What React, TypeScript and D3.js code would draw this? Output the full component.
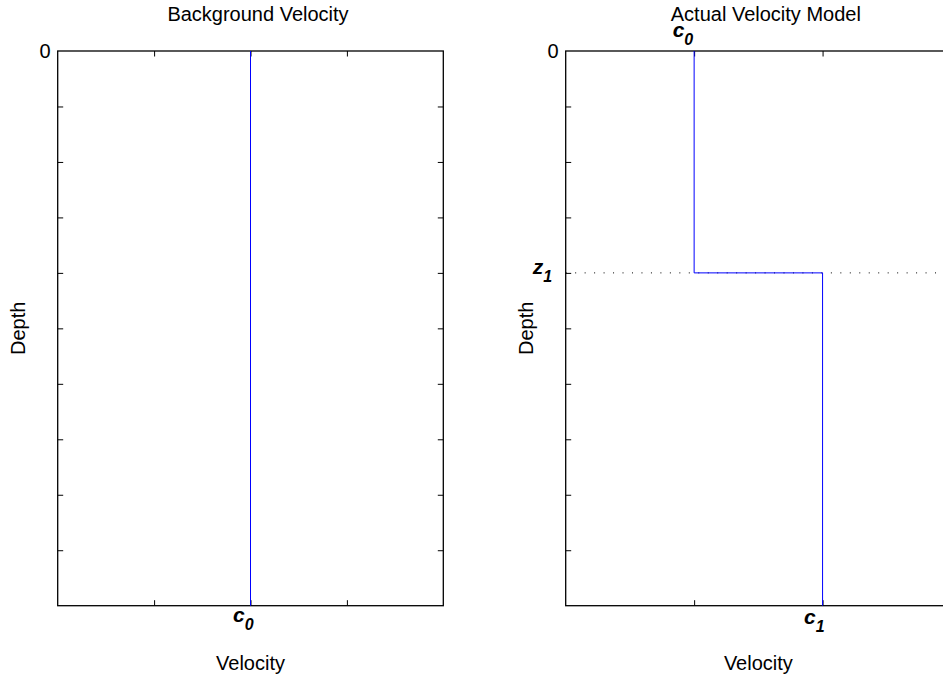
import { useEffect, useRef } from 'react';
import * as d3 from 'd3';

// depth axis (shared by both panels)
const depthDomain = [0, 10];
const depthTicks = [0, 1, 2, 3, 4, 5, 6, 7, 8, 9, 10];

// background panel
const bgVelocityDomain = [0, 4];
const bgVelocityTicks = [0, 1, 2, 3, 4];
const bgVelocity = [2, 2];
const bgDepth = [0, 10];

// actual model panel
const actVelocityDomain = [0, 3];
const actVelocityTicks = [0, 1, 2, 3];
const actVelocity = [1, 1, 2, 2];
const actDepth = [0, 4, 4, 10];
const layerDepth = 4; // z_1
const c0 = 1;
const c1 = 2;
const bgC0 = 2;

const FONT = '"Liberation Sans", Arial, Helvetica, sans-serif';

export default function App() {
  const svgRef = useRef<SVGSVGElement>(null);

  useEffect(() => {
    document.body.style.margin = '0';
    document.body.style.overflow = 'hidden';
    if (!svgRef.current) return;

    const width = 943;
    const height = 677;
    const top = 51;
    const bottom = 605.7;

    const svg = d3.select(svgRef.current)
      .attr('width', width)
      .attr('height', height)
      .attr('viewBox', `0 0 ${width} ${height}`);
    svg.selectAll('*').remove();

    const y = d3.scaleLinear().domain(depthDomain).range([top, bottom]);

    const drawPanel = (
      left: number,
      right: number,
      xDomain: number[],
      xTicks: number[],
      title: string,
      yLabels: Record<number, string>,
    ) => {
      const x = d3.scaleLinear().domain(xDomain).range([left, right]);
      const g = svg.append('g').style('font-family', FONT);

      const inner = xTicks.slice(1, -1);
      const innerD = depthTicks.slice(1, -1);

      // box-style ticks, pointing inward on all four sides
      g.append('g')
        .attr('transform', `translate(0,${bottom})`)
        .call(d3.axisBottom(x).tickValues(inner).tickSizeInner(-5.5).tickSizeOuter(0).tickFormat(() => ''));
      g.append('g')
        .attr('transform', `translate(0,${top})`)
        .call(d3.axisTop(x).tickValues(inner).tickSizeInner(-5.5).tickSizeOuter(0).tickFormat(() => ''));
      g.append('g')
        .attr('transform', `translate(${left},0)`)
        .call(d3.axisLeft(y).tickValues(innerD).tickSizeInner(-5.5).tickSizeOuter(0).tickFormat(() => ''));
      g.append('g')
        .attr('transform', `translate(${right},0)`)
        .call(d3.axisRight(y).tickValues(innerD).tickSizeInner(-5.5).tickSizeOuter(0).tickFormat(() => ''));
      g.selectAll('.domain').remove();
      g.selectAll('.tick line').attr('stroke', '#000').attr('stroke-width', 1);

      g.append('rect')
        .attr('x', left).attr('y', top)
        .attr('width', right - left).attr('height', bottom - top)
        .attr('fill', 'none').attr('stroke', '#000').attr('stroke-width', 1.3);

      // depth "0" label
      Object.entries(yLabels).forEach(([k, v]) => {
        g.append('text')
          .attr('x', left - 7).attr('y', y(+k))
          .attr('dy', '0.35em')
          .attr('text-anchor', 'end')
          .style('font-size', '20px')
          .text(v);
      });

      g.append('text')
        .attr('x', (left + right) / 2 + 7.5).attr('y', 21)
        .attr('text-anchor', 'middle')
        .style('font-size', '20px')
        .text(title);

      g.append('text')
        .attr('x', (left + right) / 2).attr('y', 670)
        .attr('text-anchor', 'middle')
        .style('font-size', '20px')
        .text('Velocity');

      g.append('text')
        .attr('transform', `translate(${left - 33},${(top + bottom) / 2}) rotate(-90)`)
        .attr('text-anchor', 'middle')
        .style('font-size', '20px')
        .text('Depth');

      return { g, x };
    };

    const subLabel = (g: any, px: number, py: number, main: string, sub: string) => {
      const t = g.append('text')
        .attr('x', px).attr('y', py)
        .style('font-weight', 'bold').style('font-style', 'italic')
        .style('font-size', '21px');
      t.append('tspan').text(main);
      t.append('tspan').attr('dy', 8).style('font-size', '16px').text(sub);
    };

    // ---- left: background velocity
    const L = drawPanel(57.7, 443.3, bgVelocityDomain, bgVelocityTicks, 'Background Velocity', { 0: '0' });
    const bgLine = d3.line<number>()
      .x((_, i) => L.x(bgVelocity[i]))
      .y(d => y(d));
    L.g.append('path')
      .attr('d', bgLine(bgDepth))
      .attr('fill', 'none').attr('stroke', '#0000ff').attr('stroke-width', 1);
    subLabel(L.g, L.x(bgC0) - 17.5, 621.5, 'c', '0');

    // ---- right: actual velocity model
    const R = drawPanel(565.7, 951, actVelocityDomain, actVelocityTicks, 'Actual Velocity Model', { 0: '0' });
    R.g.append('line')
      .attr('x1', R.x(actVelocityDomain[0])).attr('x2', R.x(actVelocityDomain[1]))
      .attr('y1', y(layerDepth)).attr('y2', y(layerDepth))
      .attr('stroke', '#000').attr('stroke-width', 1)
      .attr('stroke-dasharray', '1,8.47');
    const actLine = d3.line<number>()
      .x((_, i) => R.x(actVelocity[i]))
      .y(d => y(d));
    R.g.append('path')
      .attr('d', actLine(actDepth))
      .attr('fill', 'none').attr('stroke', '#0000ff').attr('stroke-width', 1);
    subLabel(R.g, R.x(c0) - 21.5, 37, 'c', '0');
    subLabel(R.g, R.x(c1) - 18.5, 624, 'c', '1');
    subLabel(R.g, 565.7 - 33, y(layerDepth) + 1, 'z', '1');
  }, []);

  return (
    <div style={{ width: 943, height: 677, background: '#fff' }}>
      <svg ref={svgRef} style={{ display: 'block' }}></svg>
    </div>
  );
}
